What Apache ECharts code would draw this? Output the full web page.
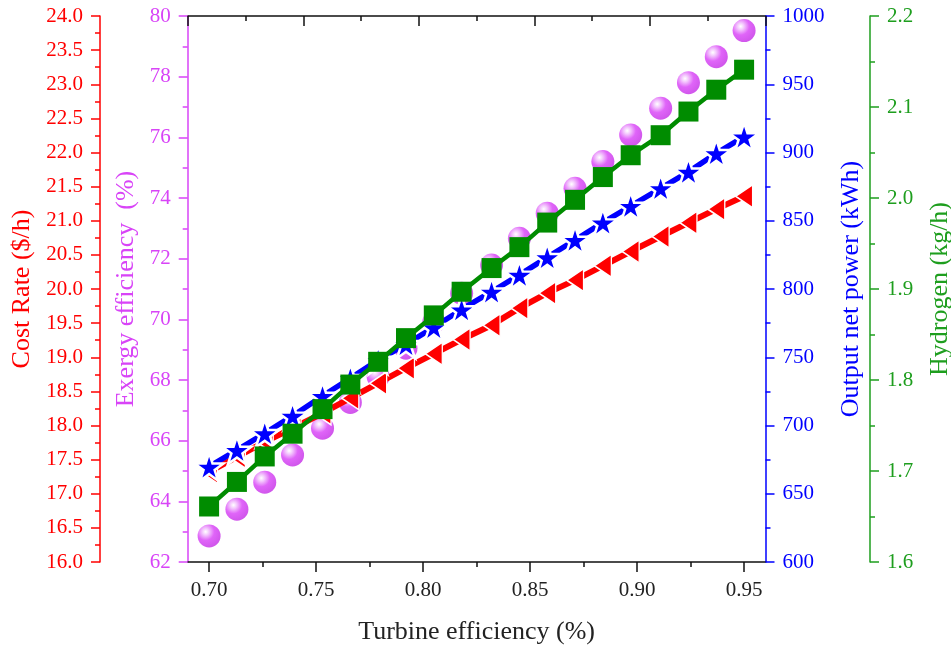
<!DOCTYPE html>
<html>
<head>
<meta charset="utf-8">
<script src="https://cdn.jsdelivr.net/npm/echarts@6/dist/echarts.min.js"></script>
<style>
html,body{margin:0;padding:0;background:#fff;overflow:hidden;width:951px;height:647px;}
#chart{position:absolute;left:0;top:0;width:951px;height:647px;}
</style>
</head>
<body>
<div id="chart"></div>
<script>
// ---- data ----
const turbineEff = [0.700, 0.713, 0.726, 0.739, 0.753, 0.766, 0.779, 0.792, 0.805, 0.818, 0.832, 0.845, 0.858, 0.871, 0.884, 0.897, 0.911, 0.924, 0.937, 0.950];
const costRate   = [17.32, 17.54, 17.76, 17.96, 18.18, 18.40, 18.62, 18.84, 19.05, 19.26, 19.47, 19.72, 19.94, 20.13, 20.34, 20.55, 20.77, 20.97, 21.17, 21.36];
const exergyEff  = [62.86, 63.74, 64.63, 65.53, 66.41, 67.26, 68.11, 69.05, 69.92, 70.86, 71.79, 72.67, 73.50, 74.32, 75.20, 76.08, 76.96, 77.80, 78.66, 79.52];
const netPower   = [669.8, 682.0, 694.3, 707.0, 721.6, 734.6, 748.0, 759.5, 772.0, 785.0, 798.0, 810.3, 823.2, 835.9, 848.6, 860.8, 873.8, 885.8, 899.4, 911.6];
const hydrogen   = [1.661, 1.688, 1.716, 1.741, 1.768, 1.795, 1.820, 1.846, 1.871, 1.897, 1.923, 1.946, 1.973, 1.998, 2.023, 2.047, 2.069, 2.095, 2.119, 2.141];

const xMajorTicks = [0.70, 0.75, 0.80, 0.85, 0.90, 0.95];
const xMinorTicks = [0.725, 0.775, 0.825, 0.875, 0.925];

const FONT = 'Liberation Serif';
const RED = '#FF0000', MAG = '#D844F7', BLUE = '#0000FF', GREEN = '#008C00', GREEN_AX = '#1E9E1E';

const starPath = 'path://M50 0 L61.23 34.55 L97.55 34.55 L68.17 55.9 L79.39 90.45 L50 69.1 L20.61 90.45 L31.83 55.9 L2.45 34.55 L38.77 34.55 Z';

function pairs(ys){ return turbineEff.map((x,i)=>[x, ys[i]]); }

function yAx(opts){
  const c = opts.color;
  return {
    type:'value', position: opts.position, offset: opts.offset,
    min: opts.min, max: opts.max, interval: opts.interval,
    name: opts.name, nameLocation:'middle', nameGap: opts.nameGap, nameRotate: 90,
    nameTextStyle:{color:c, fontFamily:FONT, fontSize:26},
    axisLine:{show:true, onZero:false, lineStyle:{color:c, width:1.5}},
    axisTick:{show:true, inside:false, length:9, lineStyle:{color:c, width:1.5}},
    minorTick:{show:true, splitNumber:2, length:5, lineStyle:{color:c, width:1.5}},
    axisLabel:{color:c, fontFamily:FONT, fontSize:21, margin:17,
      formatter: opts.fmt || (v=>String(v))},
    splitLine:{show:false}
  };
}

const W = 951, H = 647;
const option = {
  backgroundColor:'#fff',
  animation:false,
  grid:{left:187.7, right:185.5, top:16, bottom:85, containLabel:false, outerBoundsMode:'none'},
  xAxis:[
    {
      type:'value', position:'bottom', min:0.69, max:0.96,
      name:'Turbine efficiency (%)', nameLocation:'middle', nameGap:57,
      nameTextStyle:{color:'#222', fontFamily:FONT, fontSize:26},
      axisLine:{show:true, onZero:false, lineStyle:{color:'#111', width:1.5}},
      axisTick:{show:true, length:10, customValues:xMajorTicks, lineStyle:{color:'#111', width:1.5}},
      axisLabel:{color:'#222', fontFamily:FONT, fontSize:21, margin:18, customValues:xMajorTicks,
        formatter:v=>Number(v).toFixed(2)},
      splitLine:{show:false}
    },
    {
      type:'value', position:'bottom', min:0.69, max:0.96,
      axisLine:{show:false},
      axisTick:{show:true, length:5, customValues:xMinorTicks, lineStyle:{color:'#111', width:1.5}},
      axisLabel:{show:false},
      splitLine:{show:false}
    },
    {
      type:'value', position:'top', min:0, max:5, interval:1,
      axisLine:{show:true, onZero:false, lineStyle:{color:'#111', width:1.5}},
      axisTick:{show:true, inside:true, length:10, lineStyle:{color:'#111', width:1.5}},
      minorTick:{show:true, splitNumber:2, length:5, lineStyle:{color:'#111', width:1.5}},
      axisLabel:{show:false},
      splitLine:{show:false}
    }
  ],
  yAxis:[
    yAx({color:RED, position:'left', offset:87.7, min:16, max:24, interval:0.5,
         name:'Cost Rate ($/h)', nameGap:62, fmt:v=>Number(v).toFixed(1)}),
    yAx({color:MAG, position:'left', offset:0, min:62, max:80, interval:2,
         name:'Exergy efficiency  (%)', nameGap:45}),
    yAx({color:BLUE, position:'right', offset:0, min:600, max:1000, interval:50,
         name:'Output net power (kWh)', nameGap:73}),
    yAx({color:GREEN_AX, position:'right', offset:104.5, min:1.6, max:2.2, interval:0.1,
         name:'Hydrogen (kg/h)', nameGap:57, fmt:v=>Number(v).toFixed(1)})
  ],
  series:[
    {
      name:'Exergy efficiency', type:'scatter', xAxisIndex:0, yAxisIndex:1,
      data: pairs(exergyEff), symbol:'circle', symbolSize:23, z:2,
      itemStyle:{
        color:{type:'radial', x:0.35, y:0.32, r:0.75,
          colorStops:[{offset:0,color:'#ffffff'},{offset:0.2,color:'#f0b8fc'},{offset:0.5,color:'#D83EF7'},{offset:1,color:'#C229E4'}]}
      }
    },
    {
      name:'Cost Rate', type:'line', xAxisIndex:0, yAxisIndex:0,
      data: pairs(costRate), symbol:'triangle', symbolRotate:90, symbolSize:[23,17], z:3,
      lineStyle:{color:RED, width:6},
      itemStyle:{color:RED, borderColor:'#fff', borderWidth:1.5}
    },
    {
      name:'Output net power', type:'line', xAxisIndex:0, yAxisIndex:2,
      data: pairs(netPower), symbol:starPath, symbolSize:[29,28], z:4,
      lineStyle:{color:BLUE, width:5.5},
      itemStyle:{color:BLUE, borderColor:'#fff', borderWidth:2.5}
    },
    {
      name:'Hydrogen', type:'line', xAxisIndex:0, yAxisIndex:3,
      data: pairs(hydrogen), symbol:'rect', symbolSize:20, z:5,
      lineStyle:{color:GREEN, width:4.5},
      itemStyle:{color:GREEN}
    }
  ]
};

const chart = echarts.init(document.getElementById('chart'), null, {renderer:'canvas', width:W, height:H});
chart.setOption(option);
</script>
</body>
</html>
